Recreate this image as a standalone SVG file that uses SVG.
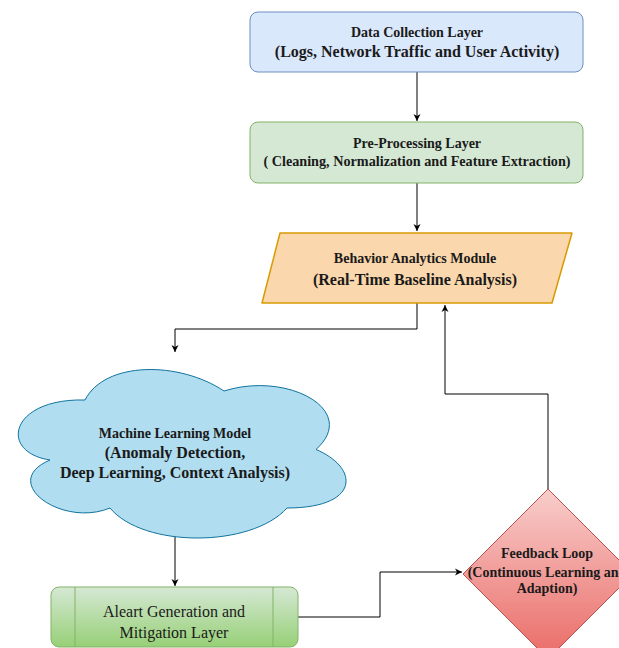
<svg xmlns="http://www.w3.org/2000/svg" width="619" height="648" viewBox="0 0 619 648">
<defs>
<marker id="arr" markerWidth="8" markerHeight="8" refX="7" refY="4" orient="auto" markerUnits="userSpaceOnUse">
<path d="M0,0.5 L7,4 L0,7.5 L2,4 Z" fill="#000"/>
</marker>
<linearGradient id="gGreen" x1="0" y1="0" x2="0" y2="1">
<stop offset="0" stop-color="#d5e8d4"/>
<stop offset="1" stop-color="#97d077"/>
</linearGradient>
<linearGradient id="gRed" x1="0" y1="0" x2="0" y2="1">
<stop offset="0" stop-color="#f8cecc"/>
<stop offset="1" stop-color="#ea6b66"/>
</linearGradient>
</defs>
<style>
text{fill:#1a1a1a;text-anchor:middle}
.b{font-weight:bold}
.s{font-size:14px}
.m{font-size:16px}
.d{font-size:14px}
.c{fill:none;stroke:#000;stroke-width:1}
</style>
<rect width="619" height="648" fill="#fff"/>
<g id="connectors">
<path class="c" d="M417,72 V121" marker-end="url(#arr)"/>
<path class="c" d="M417,183 V231" marker-end="url(#arr)"/>
<path class="c" d="M417,303 V329 H175 V352" marker-end="url(#arr)"/>
<path class="c" d="M175,537 V586" marker-end="url(#arr)"/>
<path class="c" d="M298,617 H380 V572 H462" marker-end="url(#arr)"/>
<path class="c" d="M548,489 V394 H445 V305" marker-end="url(#arr)"/>
</g>
<g font-family="'Liberation Serif', 'DejaVu Serif', 'Times New Roman', serif">
<g id="data-collection">
<rect x="250" y="12" width="333" height="60" rx="8" fill="#dae8fc" stroke="#6c8ebf"/>
<text class="b s" x="417" y="37">Data Collection Layer</text>
<text class="b m" x="417" y="57">(Logs, Network Traffic and User Activity)</text>
</g>
<g id="pre-processing">
<rect x="250" y="122" width="333" height="61" rx="8" fill="#d5e8d4" stroke="#82b366"/>
<text class="b s" x="417" y="148">Pre-Processing Layer</text>
<text class="b" font-size="14.2" x="417" y="166">( Cleaning, Normalization and Feature Extraction)</text>
</g>
<g id="behavior">
<polygon points="280,233 572,233 552,303 262,303" fill="#fad7ac" stroke="#d79b00" stroke-linejoin="round" stroke-width="1.5"/>
<text class="b s" x="415" y="263">Behavior Analytics Module</text>
<text class="b m" x="415" y="285">(Real-Time Baseline Analysis)</text>
</g>
<g id="ml-model">
<path d="M85,400 C10,398 -2,452 50,460 C-2,482 62,528 110,508 C143,548 251,548 287,508 C360,508 360,468 316,449.5 C360,410 287,371 224,391 C179,361 105,361 85,400 Z" fill="#b1ddf0" stroke="#10739e"/>
<text class="b s" x="175" y="438">Machine Learning Model</text>
<text class="b m" x="175" y="458">(Anomaly Detection,</text>
<text class="b m" x="175" y="478">Deep Learning, Context Analysis)</text>
</g>
<g id="alert">
<rect x="51" y="587" width="247" height="60" rx="8" fill="url(#gGreen)" stroke="#82b366"/>
<line x1="75" y1="587" x2="75" y2="647" stroke="#82b366"/>
<line x1="273" y1="587" x2="273" y2="647" stroke="#82b366"/>
<text class="m" x="174" y="617">Aleart Generation and</text>
<text class="m" x="174" y="638">Mitigation Layer</text>
</g>
<g id="feedback">
<polygon points="548,489 633,574 548,659 463,574" fill="url(#gRed)" stroke="#b85450" stroke-linejoin="round"/>
<text class="b d" x="547" y="558">Feedback Loop</text>
<text class="b d" x="547" y="577">(Continuous Learning and</text>
<text class="b d" x="547" y="593">Adaption)</text>
</g>
</g>
</svg>
